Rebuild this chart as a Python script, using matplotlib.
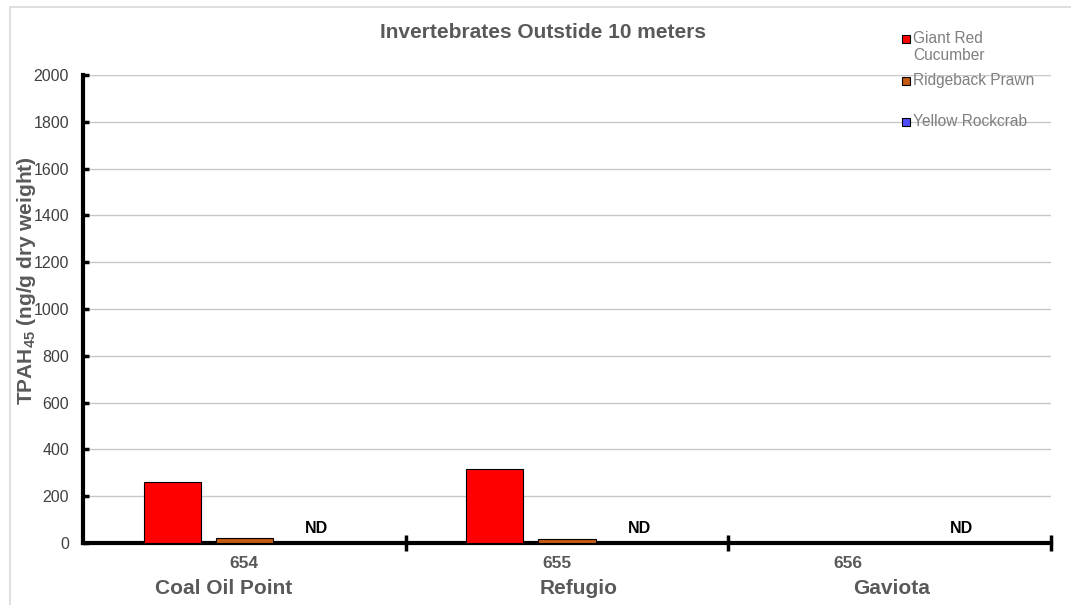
import numpy as np
import matplotlib
matplotlib.use("Agg")
import matplotlib.pyplot as plt
from matplotlib.patches import Rectangle

plt.rcParams['font.family'] = ['Liberation Sans', 'DejaVu Sans']
plt.rcParams['mathtext.fontset'] = 'custom'
plt.rcParams['mathtext.rm'] = 'Liberation Sans'
plt.rcParams['mathtext.bf'] = 'Liberation Sans:bold'
plt.rcParams['mathtext.default'] = 'bf'

# data
stations = ["654", "655", "656"]
sites = ["Coal Oil Point", "Refugio", "Gaviota"]
giant_red = [262, 316, np.nan]
ridgeback = [22, 16, np.nan]
rockcrab = [np.nan, np.nan, np.nan]
rockcrab_nd = [True, True, True]
series_names = ["Giant Red\nCucumber", "Ridgeback Prawn", "Yellow Rockcrab"]
series_colors = ["#FF0000", "#C55A11", "#4D4DFF"]
yticks = list(range(0, 2001, 200))

# label nudges (category units), the original labels are not centred
station_shift = [0.0, -0.03, -0.13]
site_shift = [-0.064, 0.037, 0.005]

W, H = 1071, 605
fig = plt.figure(figsize=(W / 100, H / 100), dpi=100)
fig.patches.append(Rectangle((10 / W, -0.1), 1.2, 1 - 7 / H + 0.1, transform=fig.transFigure,
                             fill=False, edgecolor="#D9D9D9", linewidth=1.2))

ax = fig.add_axes([83 / W, 1 - 543 / H, (1051 - 83) / W, (543 - 75) / H])

x = np.arange(len(stations))
step = 0.224
width = 0.177
ax.bar(x - step, giant_red, width, color=series_colors[0], edgecolor="black", linewidth=0.8, zorder=3)
ax.bar(x, ridgeback, width, color=series_colors[1], edgecolor="black", linewidth=0.8, zorder=3)
ax.bar(x + step, rockcrab, width, color=series_colors[2], edgecolor="black", linewidth=0.8, zorder=3)

# ND markers for the rockcrab series
nd_h = 6
for i, nd in enumerate(rockcrab_nd):
    if nd:
        ax.bar(x[i] + step, nd_h, width, color="black", edgecolor="black", linewidth=0.8, zorder=3)
        ax.text(x[i] + step, nd_h + 22, "ND", ha="center", va="bottom", fontsize=11.5,
                fontweight="bold", color="black")

ax.set_xlim(-0.5, len(stations) - 0.5)
ax.set_ylim(0, 2000)
ax.set_yticks(yticks)
ax.set_yticklabels([str(v) for v in yticks], fontsize=11.5, color="#404040")
ax.yaxis.grid(True, color="#C8C8C8", linewidth=1, zorder=0)
ax.tick_params(axis="y", direction="in", length=4, width=2.5, pad=10)

ax.set_xticks(x + 0.5)
ax.set_xticklabels([])
ax.tick_params(axis="x", direction="inout", length=11, width=2.5)

for s in ["top", "right"]:
    ax.spines[s].set_visible(False)
ax.spines["left"].set_linewidth(3)
ax.spines["bottom"].set_linewidth(3)

for i in range(len(stations)):
    ax.text(x[i] + station_shift[i], -88, stations[i], ha="center", va="center",
            fontsize=12.5, fontweight="bold", color="#595959")
    ax.text(x[i] + site_shift[i], -195, sites[i], ha="center", va="center",
            fontsize=15, fontweight="bold", color="#595959")

ax.set_ylabel("TPAH$_{45}$ (ng/g dry weight)", fontsize=15, fontweight="bold", color="#595959")
ax.yaxis.set_label_coords(-0.046, 0.56)

fig.text(543 / W, 1 - 33 / H, "Invertebrates Outstide 10 meters", ha="center", va="center",
         fontsize=15, fontweight="bold", color="#595959")

# legend drawn by hand to follow the uneven spacing
leg_y = [39, 81, 122]
for name, col, yy in zip(series_names, series_colors, leg_y):
    fig.patches.append(Rectangle((902 / W, 1 - (yy + 4) / H), 8 / W, 8 / H, transform=fig.transFigure,
                                 facecolor=col, edgecolor="black", linewidth=0.8))
    fig.text(913 / W, 1 - (yy - 8) / H, name, ha="left", va="top", fontsize=11.2,
             color="#7F7F7F", linespacing=1.15)

fig.savefig("out.png", dpi=100)
